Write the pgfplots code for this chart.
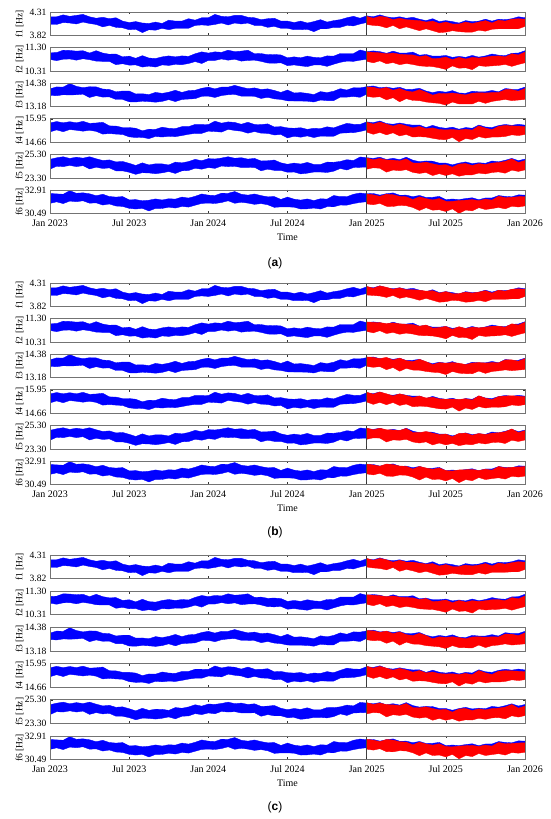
\documentclass[border=0pt]{standalone}
\usepackage{fontspec}
\setmainfont{Liberation Serif}
\newfontfamily\labelfont{Liberation Sans}
\usepackage{pgfplots}
\usepackage{pgfplotstable}
\pgfplotsset{compat=1.18}
\usepgfplotslibrary{fillbetween}
\newcommand{\T}[2]{\pgfplotstableread[row sep=\\]{v\\#1}#2}
% ---------- blue: measured, Jan 2023 - Jan 2026, every half month (upper / lower edge of band)
\T{4.21\\4.21\\4.25\\4.22\\4.24\\4.26\\4.21\\4.18\\4.20\\4.17\\4.19\\4.12\\4.09\\4.11\\4.08\\4.07\\4.10\\4.07\\4.14\\4.12\\4.12\\4.17\\4.14\\4.19\\4.19\\4.26\\4.22\\4.21\\4.24\\4.24\\4.20\\4.19\\4.15\\4.17\\4.18\\4.12\\4.12\\4.09\\4.12\\4.08\\4.11\\4.15\\4.10\\4.13\\4.15\\4.19\\4.22\\4.18\\4.23\\4.21\\4.25\\4.21\\4.19\\4.21\\4.18\\4.20\\4.16\\4.13\\4.17\\4.11\\4.13\\4.11\\4.08\\4.13\\4.11\\4.12\\4.16\\4.12\\4.16\\4.15\\4.17\\4.21\\4.19\\}\BoneU
\T{4.05\\4.05\\4.09\\4.08\\4.06\\4.10\\4.07\\4.05\\4.00\\4.03\\3.99\\3.98\\3.94\\3.95\\3.88\\3.94\\3.93\\3.97\\3.94\\3.97\\3.97\\3.97\\4.03\\4.04\\4.03\\4.05\\4.08\\4.04\\4.08\\4.06\\4.08\\4.03\\4.03\\3.99\\4.01\\3.97\\3.97\\3.94\\3.94\\3.95\\3.90\\3.96\\3.96\\3.99\\3.99\\4.03\\4.02\\4.06\\4.09\\4.07\\4.05\\4.05\\4.08\\4.02\\4.04\\4.02\\4.00\\4.01\\3.99\\3.94\\3.96\\3.96\\3.97\\3.94\\3.96\\3.97\\3.95\\4.00\\3.99\\4.01\\4.01\\4.03\\4.05\\}\BoneL
\T{11.08\\11.09\\11.19\\11.18\\11.15\\11.17\\11.07\\11.17\\11.07\\11.02\\11.03\\10.91\\10.94\\10.85\\10.96\\10.86\\10.84\\10.91\\10.95\\10.91\\10.95\\10.93\\11.04\\11.12\\11.07\\11.12\\11.10\\11.19\\11.13\\11.15\\11.19\\11.04\\11.05\\11.00\\11.01\\10.99\\10.87\\10.91\\10.87\\10.94\\10.89\\10.87\\10.95\\10.94\\11.05\\11.05\\11.05\\11.20\\11.13\\11.16\\11.13\\11.06\\11.15\\11.07\\11.07\\11.11\\10.98\\11.01\\10.94\\10.94\\10.97\\10.89\\10.93\\10.89\\10.97\\10.90\\10.95\\11.03\\10.98\\10.96\\11.06\\11.07\\11.17\\}\BtwoU
\T{10.80\\10.75\\10.81\\10.82\\10.77\\10.83\\10.79\\10.73\\10.72\\10.72\\10.58\\10.62\\10.56\\10.57\\10.48\\10.52\\10.48\\10.57\\10.55\\10.59\\10.58\\10.63\\10.71\\10.63\\10.76\\10.76\\10.82\\10.77\\10.81\\10.73\\10.76\\10.77\\10.72\\10.65\\10.64\\10.66\\10.54\\10.57\\10.53\\10.50\\10.57\\10.57\\10.51\\10.60\\10.68\\10.73\\10.72\\10.77\\10.81\\10.74\\10.81\\10.76\\10.77\\10.71\\10.72\\10.71\\10.69\\10.62\\10.65\\10.58\\10.53\\10.61\\10.57\\10.56\\10.51\\10.62\\10.60\\10.64\\10.62\\10.70\\10.61\\10.73\\10.74\\}\BtwoL
\T{14.09\\14.19\\14.18\\14.36\\14.22\\14.15\\14.20\\14.19\\14.08\\14.06\\13.94\\13.98\\13.98\\13.83\\13.84\\13.80\\13.91\\13.86\\13.92\\14.02\\13.91\\14.00\\14.02\\14.12\\14.18\\14.09\\14.18\\14.18\\14.27\\14.18\\14.10\\14.14\\14.06\\14.09\\14.01\\13.91\\14.03\\13.88\\13.90\\13.86\\13.80\\13.95\\13.90\\13.97\\14.10\\14.03\\14.15\\14.14\\14.20\\14.24\\14.15\\14.18\\14.12\\14.17\\14.06\\14.07\\14.12\\13.98\\13.90\\13.97\\13.92\\14.00\\13.88\\13.86\\13.97\\13.94\\13.94\\14.01\\13.94\\14.11\\14.07\\14.07\\14.18\\}\BthreeU
\T{13.76\\13.74\\13.79\\13.78\\13.79\\13.82\\13.65\\13.74\\13.67\\13.68\\13.55\\13.55\\13.43\\13.42\\13.46\\13.44\\13.41\\13.45\\13.54\\13.44\\13.55\\13.57\\13.59\\13.71\\13.72\\13.65\\13.75\\13.79\\13.81\\13.72\\13.72\\13.71\\13.60\\13.66\\13.58\\13.55\\13.48\\13.47\\13.47\\13.46\\13.42\\13.52\\13.49\\13.49\\13.67\\13.67\\13.70\\13.66\\13.82\\13.76\\13.77\\13.70\\13.76\\13.59\\13.70\\13.64\\13.68\\13.55\\13.56\\13.51\\13.44\\13.52\\13.49\\13.45\\13.49\\13.56\\13.46\\13.58\\13.58\\13.68\\13.61\\13.69\\13.65\\}\BthreeL
\T{15.72\\15.80\\15.73\\15.79\\15.73\\15.81\\15.70\\15.72\\15.76\\15.56\\15.55\\15.47\\15.47\\15.43\\15.29\\15.38\\15.37\\15.49\\15.43\\15.41\\15.52\\15.52\\15.64\\15.64\\15.63\\15.82\\15.71\\15.78\\15.75\\15.65\\15.76\\15.64\\15.63\\15.67\\15.50\\15.52\\15.45\\15.43\\15.46\\15.37\\15.43\\15.41\\15.51\\15.45\\15.58\\15.70\\15.65\\15.64\\15.78\\15.74\\15.83\\15.69\\15.65\\15.72\\15.65\\15.60\\15.61\\15.47\\15.59\\15.48\\15.43\\15.49\\15.38\\15.47\\15.43\\15.61\\15.50\\15.47\\15.58\\15.64\\15.59\\15.65\\15.60\\}\BfourU
\T{15.23\\15.34\\15.24\\15.36\\15.32\\15.27\\15.32\\15.26\\15.11\\15.14\\15.11\\15.09\\14.96\\14.92\\14.93\\14.86\\14.98\\14.95\\14.99\\14.97\\15.03\\15.10\\15.15\\15.15\\15.27\\15.25\\15.22\\15.37\\15.31\\15.27\\15.16\\15.25\\15.16\\15.15\\15.06\\15.09\\14.90\\14.99\\14.94\\15.01\\14.92\\15.00\\14.99\\14.99\\15.16\\15.18\\15.19\\15.25\\15.34\\15.20\\15.29\\15.25\\15.31\\15.18\\15.21\\15.10\\15.18\\15.09\\15.07\\14.99\\14.99\\15.03\\14.87\\15.01\\14.99\\15.07\\15.01\\15.09\\15.04\\15.12\\15.20\\15.21\\15.19\\}\BfourL
\T{24.88\\25.01\\25.10\\24.96\\25.06\\24.98\\25.10\\24.93\\24.78\\24.83\\24.66\\24.70\\24.54\\24.36\\24.58\\24.40\\24.50\\24.49\\24.40\\24.64\\24.58\\24.69\\24.88\\24.76\\24.94\\24.91\\24.99\\25.10\\24.97\\25.02\\24.90\\24.96\\24.74\\24.76\\24.82\\24.58\\24.46\\24.56\\24.48\\24.62\\24.44\\24.44\\24.64\\24.63\\24.70\\24.85\\24.78\\25.08\\25.02\\24.96\\25.06\\24.87\\24.97\\24.85\\25.06\\24.81\\24.68\\24.74\\24.72\\24.56\\24.56\\24.41\\24.56\\24.66\\24.52\\24.59\\24.54\\24.74\\24.67\\24.80\\24.96\\24.77\\24.90\\}\BfiveU
\T{24.04\\24.29\\24.26\\24.36\\24.26\\24.34\\24.06\\24.21\\24.10\\24.15\\23.90\\23.90\\23.78\\23.60\\23.74\\23.72\\23.66\\23.73\\23.84\\23.68\\23.90\\23.93\\24.12\\24.04\\24.18\\24.11\\24.31\\24.26\\24.29\\24.18\\24.18\\24.20\\23.90\\24.04\\23.94\\23.94\\23.78\\23.80\\23.64\\23.70\\23.80\\23.80\\23.76\\23.87\\24.10\\23.97\\24.18\\24.20\\24.22\\24.32\\24.26\\24.07\\24.17\\24.17\\24.18\\24.01\\24.00\\23.98\\23.80\\23.92\\23.80\\23.81\\23.72\\23.78\\23.84\\23.87\\23.82\\23.98\\23.95\\23.92\\24.16\\24.13\\24.14\\}\BfiveL
\T{32.55\\32.51\\32.47\\32.84\\32.57\\32.62\\32.52\\32.32\\32.47\\32.24\\32.18\\32.23\\31.89\\31.92\\31.80\\31.86\\31.99\\31.88\\32.01\\31.97\\32.18\\32.08\\32.26\\32.50\\32.38\\32.34\\32.58\\32.57\\32.75\\32.47\\32.38\\32.50\\32.33\\32.21\\32.23\\31.94\\32.18\\31.97\\31.87\\31.99\\31.82\\32.01\\31.97\\32.34\\32.23\\32.22\\32.47\\32.60\\32.52\\32.55\\32.38\\32.53\\32.61\\32.37\\32.38\\32.22\\32.35\\32.14\\32.16\\32.25\\31.92\\31.98\\31.92\\32.03\\32.11\\31.91\\32.09\\32.09\\32.34\\32.25\\32.21\\32.41\\32.38\\}\BsixU
\T{31.53\\31.69\\31.51\\31.77\\31.70\\31.80\\31.55\\31.59\\31.36\\31.47\\31.26\\31.22\\31.02\\30.95\\31.02\\30.75\\31.02\\31.01\\31.14\\31.05\\31.22\\31.15\\31.34\\31.53\\31.56\\31.52\\31.62\\31.80\\31.54\\31.65\\31.56\\31.43\\31.51\\31.39\\31.12\\31.17\\31.17\\31.14\\30.95\\30.97\\31.05\\30.95\\31.19\\31.18\\31.36\\31.35\\31.51\\31.63\\31.70\\31.58\\31.70\\31.57\\31.45\\31.64\\31.51\\31.40\\31.19\\31.36\\31.19\\31.19\\31.05\\31.16\\30.85\\31.12\\31.10\\31.28\\31.12\\31.27\\31.28\\31.24\\31.48\\31.50\\31.46\\}\BsixL
% ---------- red: Jan 2025 - Jan 2026, every half month, panels (a), (b), (c)
\T{4.22\\4.18\\4.22\\4.20\\4.15\\4.18\\4.15\\4.14\\4.13\\4.10\\4.12\\4.07\\4.10\\4.06\\4.06\\4.10\\4.07\\4.10\\4.13\\4.08\\4.14\\4.12\\4.16\\4.17\\4.16\\}\RoneAU
\T{4.05\\4.03\\4.02\\3.98\\4.03\\3.96\\4.00\\3.96\\3.92\\3.96\\3.92\\3.88\\3.89\\3.92\\3.90\\3.89\\3.89\\3.93\\3.91\\3.95\\3.96\\3.96\\3.96\\3.96\\4.01\\}\RoneAL
\T{4.24\\4.20\\4.25\\4.22\\4.18\\4.21\\4.17\\4.17\\4.16\\4.14\\4.15\\4.10\\4.13\\4.09\\4.09\\4.12\\4.10\\4.12\\4.15\\4.10\\4.16\\4.14\\4.18\\4.19\\4.18\\}\RoneBU
\T{4.06\\4.05\\4.04\\4.01\\4.05\\3.99\\4.02\\3.99\\3.95\\3.99\\3.95\\3.91\\3.92\\3.95\\3.94\\3.91\\3.92\\3.95\\3.92\\3.97\\3.97\\3.97\\3.98\\3.98\\4.03\\}\RoneBL
\T{4.24\\4.20\\4.24\\4.21\\4.16\\4.20\\4.16\\4.16\\4.14\\4.12\\4.13\\4.08\\4.11\\4.07\\4.07\\4.10\\4.08\\4.10\\4.13\\4.08\\4.14\\4.12\\4.15\\4.17\\4.16\\}\RoneCU
\T{4.06\\4.04\\4.03\\4.00\\4.05\\3.97\\4.01\\3.98\\3.94\\3.97\\3.93\\3.89\\3.90\\3.93\\3.91\\3.90\\3.90\\3.94\\3.91\\3.95\\3.95\\3.95\\3.96\\3.96\\4.01\\}\RoneCL
\T{11.12\\11.10\\11.08\\11.04\\11.07\\11.02\\11.00\\10.99\\10.92\\10.96\\10.83\\10.85\\10.90\\10.79\\10.89\\10.82\\10.89\\10.86\\10.90\\10.94\\10.95\\10.91\\11.04\\10.99\\11.11\\}\RtwoAU
\T{10.72\\10.66\\10.74\\10.62\\10.67\\10.58\\10.63\\10.59\\10.53\\10.51\\10.50\\10.45\\10.38\\10.53\\10.43\\10.45\\10.37\\10.54\\10.51\\10.53\\10.55\\10.59\\10.51\\10.59\\10.66\\}\RtwoAL
\T{11.16\\11.14\\11.13\\11.09\\11.12\\11.08\\11.06\\11.05\\10.98\\11.03\\10.90\\10.92\\10.97\\10.85\\10.96\\10.88\\10.94\\10.91\\10.94\\10.98\\10.98\\10.94\\11.08\\11.03\\11.15\\}\RtwoBU
\T{10.76\\10.70\\10.79\\10.67\\10.72\\10.64\\10.69\\10.65\\10.59\\10.58\\10.57\\10.52\\10.45\\10.59\\10.50\\10.51\\10.42\\10.59\\10.55\\10.57\\10.58\\10.62\\10.55\\10.63\\10.70\\}\RtwoBL
\T{11.15\\11.13\\11.11\\11.07\\11.10\\11.05\\11.03\\11.02\\10.95\\10.99\\10.86\\10.88\\10.93\\10.81\\10.91\\10.84\\10.90\\10.87\\10.90\\10.94\\10.94\\10.90\\11.03\\10.98\\11.10\\}\RtwoCU
\T{10.75\\10.69\\10.77\\10.65\\10.70\\10.61\\10.66\\10.62\\10.56\\10.54\\10.53\\10.48\\10.41\\10.55\\10.45\\10.47\\10.38\\10.55\\10.51\\10.53\\10.54\\10.58\\10.50\\10.58\\10.65\\}\RtwoCL
\T{14.19\\14.17\\14.09\\14.16\\14.02\\14.11\\13.98\\13.93\\14.05\\13.92\\13.77\\13.86\\13.84\\13.88\\13.83\\13.78\\13.87\\13.89\\13.88\\13.90\\13.90\\14.05\\14.05\\13.97\\14.11\\}\RthreeAU
\T{13.71\\13.66\\13.69\\13.53\\13.64\\13.43\\13.59\\13.50\\13.49\\13.42\\13.38\\13.35\\13.26\\13.42\\13.32\\13.32\\13.32\\13.46\\13.35\\13.45\\13.50\\13.55\\13.49\\13.52\\13.55\\}\RthreeAL
\T{14.24\\14.22\\14.15\\14.22\\14.08\\14.18\\14.05\\14.00\\14.12\\14.00\\13.85\\13.95\\13.92\\13.95\\13.92\\13.85\\13.93\\13.95\\13.93\\13.95\\13.94\\14.09\\14.09\\14.02\\14.16\\}\RthreeBU
\T{13.76\\13.71\\13.75\\13.59\\13.70\\13.51\\13.66\\13.57\\13.56\\13.50\\13.46\\13.44\\13.34\\13.50\\13.41\\13.39\\13.38\\13.52\\13.40\\13.50\\13.53\\13.58\\13.54\\13.57\\13.60\\}\RthreeBL
\T{14.22\\14.20\\14.13\\14.19\\14.06\\14.15\\14.01\\13.96\\14.08\\13.96\\13.80\\13.90\\13.87\\13.90\\13.86\\13.80\\13.89\\13.90\\13.88\\13.90\\13.89\\14.04\\14.03\\13.96\\14.10\\}\RthreeCU
\T{13.75\\13.70\\13.72\\13.57\\13.68\\13.47\\13.63\\13.53\\13.52\\13.45\\13.42\\13.39\\13.30\\13.45\\13.35\\13.34\\13.33\\13.48\\13.35\\13.45\\13.48\\13.54\\13.48\\13.51\\13.54\\}\RthreeCL
\T{15.77\\15.66\\15.77\\15.66\\15.55\\15.66\\15.56\\15.45\\15.53\\15.41\\15.45\\15.36\\15.34\\15.36\\15.33\\15.38\\15.33\\15.56\\15.44\\15.35\\15.54\\15.58\\15.56\\15.55\\15.52\\}\RfourAU
\T{15.22\\15.10\\15.20\\15.07\\15.18\\15.01\\15.09\\14.95\\14.97\\14.95\\14.88\\14.82\\14.80\\14.93\\14.69\\14.87\\14.81\\14.97\\14.89\\14.95\\14.95\\14.98\\15.07\\15.03\\15.09\\}\RfourAL
\T{15.82\\15.71\\15.83\\15.73\\15.61\\15.73\\15.64\\15.52\\15.61\\15.50\\15.54\\15.45\\15.43\\15.44\\15.42\\15.46\\15.39\\15.62\\15.49\\15.41\\15.58\\15.61\\15.62\\15.60\\15.57\\}\RfourBU
\T{15.28\\15.15\\15.26\\15.13\\15.25\\15.09\\15.17\\15.02\\15.05\\15.04\\14.97\\14.91\\14.89\\15.00\\14.78\\14.95\\14.87\\15.03\\14.95\\15.00\\14.99\\15.02\\15.12\\15.08\\15.14\\}\RfourBL
\T{15.81\\15.70\\15.80\\15.70\\15.59\\15.69\\15.60\\15.48\\15.57\\15.44\\15.49\\15.40\\15.38\\15.39\\15.35\\15.41\\15.34\\15.57\\15.44\\15.35\\15.53\\15.56\\15.55\\15.53\\15.51\\}\RfourCU
\T{15.26\\15.14\\15.24\\15.11\\15.22\\15.05\\15.13\\14.98\\15.01\\14.99\\14.92\\14.86\\14.84\\14.95\\14.72\\14.89\\14.82\\14.98\\14.89\\14.95\\14.94\\14.97\\15.06\\15.02\\15.07\\}\RfourCL
\T{25.00\\24.84\\24.96\\24.83\\24.81\\24.75\\24.92\\24.57\\24.56\\24.64\\24.50\\24.38\\24.42\\24.21\\24.48\\24.52\\24.36\\24.51\\24.44\\24.56\\24.61\\24.70\\24.92\\24.61\\24.78\\}\RfiveAU
\T{24.04\\24.16\\24.12\\23.79\\23.97\\23.91\\24.00\\23.77\\23.68\\23.76\\23.50\\23.66\\23.50\\23.65\\23.44\\23.56\\23.56\\23.71\\23.64\\23.76\\23.81\\23.70\\23.96\\23.85\\23.98\\}\RfiveAL
\T{25.08\\24.92\\25.06\\24.93\\24.91\\24.87\\25.04\\24.69\\24.68\\24.78\\24.64\\24.52\\24.56\\24.33\\24.62\\24.64\\24.46\\24.61\\24.52\\24.64\\24.67\\24.76\\25.00\\24.69\\24.86\\}\RfiveBU
\T{24.12\\24.24\\24.22\\23.89\\24.07\\24.03\\24.12\\23.89\\23.80\\23.90\\23.64\\23.80\\23.64\\23.77\\23.58\\23.68\\23.66\\23.81\\23.72\\23.84\\23.87\\23.76\\24.04\\23.93\\24.06\\}\RfiveBL
\T{25.06\\24.90\\25.02\\24.89\\24.87\\24.81\\24.98\\24.63\\24.62\\24.70\\24.56\\24.44\\24.48\\24.25\\24.52\\24.56\\24.38\\24.53\\24.44\\24.56\\24.59\\24.68\\24.90\\24.59\\24.76\\}\RfiveCU
\T{24.10\\24.22\\24.18\\23.85\\24.03\\23.97\\24.06\\23.83\\23.74\\23.82\\23.56\\23.72\\23.56\\23.69\\23.48\\23.60\\23.58\\23.73\\23.64\\23.76\\23.79\\23.68\\23.94\\23.83\\23.96\\}\RfiveCL
\T{32.50\\32.41\\32.26\\32.48\\32.42\\32.25\\32.21\\31.93\\32.21\\32.02\\31.89\\32.03\\31.75\\31.74\\31.82\\31.86\\31.92\\31.81\\31.97\\31.87\\32.27\\32.13\\32.16\\32.22\\32.24\\}\RsixAU
\T{31.48\\31.39\\31.53\\31.23\\31.21\\31.33\\31.29\\31.11\\30.80\\31.09\\30.83\\30.88\\30.69\\30.97\\30.51\\30.85\\30.76\\31.09\\30.90\\31.00\\31.11\\30.97\\31.24\\31.16\\31.27\\}\RsixAL
\T{32.59\\32.50\\32.38\\32.60\\32.54\\32.39\\32.36\\32.08\\32.35\\32.19\\32.06\\32.20\\31.92\\31.88\\31.99\\32.01\\32.04\\31.93\\32.07\\31.97\\32.34\\32.20\\32.26\\32.31\\32.33\\}\RsixBU
\T{31.58\\31.48\\31.65\\31.35\\31.33\\31.47\\31.44\\31.26\\30.95\\31.26\\31.00\\31.05\\30.86\\31.11\\30.68\\31.00\\30.88\\31.21\\31.00\\31.10\\31.18\\31.05\\31.34\\31.26\\31.36\\}\RsixBL
\T{32.57\\32.48\\32.33\\32.55\\32.49\\32.32\\32.28\\32.00\\32.28\\32.09\\31.97\\32.11\\31.82\\31.79\\31.87\\31.91\\31.94\\31.84\\31.97\\31.87\\32.24\\32.11\\32.14\\32.19\\32.21\\}\RsixCU
\T{31.56\\31.46\\31.60\\31.30\\31.28\\31.40\\31.37\\31.18\\30.88\\31.17\\30.90\\30.95\\30.76\\31.02\\30.56\\30.90\\30.79\\31.11\\30.90\\31.00\\31.09\\30.95\\31.21\\31.14\\31.24\\}\RsixCL

\pgfplotsset{
  sub/.style={
    scale only axis, width=475pt, height=23.5pt, anchor=north west,
    xmin=0, xmax=72, xtick={0,12,24,36,48,60,72}, xticklabels={},
    tick align=inside, major tick length=2.5pt,
    axis line style={black!55, line width=0.6pt},
    tick style={black!80, line width=0.5pt},
    extra x ticks={48}, extra x tick labels={},
    extra x tick style={grid=major, major grid style={black!75, line width=0.6pt}},
    axis on top,
    fill between/on layer=main,
    xticklabel style={font=\fontsize{10}{12}\selectfont, yshift=-3pt},
    yticklabel style={font=\fontsize{9.6}{11}\selectfont},
    xlabel style={font=\fontsize{10}{12}\selectfont},
    ylabel style={font=\fontsize{9.5}{11}\selectfont, at={(axis description cs:-0.048,0.5)}, anchor=south},
  },
  last/.style={xticklabels={Jan 2023,Jul 2023,Jan 2024,Jul 2024,Jan 2025,Jul 2025,Jan 2026}, xlabel={Time}},
  fa/.style={ymin=3.82, ymax=4.31, ytick={3.82,4.31}, yticklabels={3.82,4.31}, ylabel={f1 [Hz]}},
  fb/.style={ymin=10.31, ymax=11.30, ytick={10.31,11.30}, yticklabels={10.31,11.30}, ylabel={f2 [Hz]}},
  fc/.style={ymin=13.18, ymax=14.38, ytick={13.18,14.38}, yticklabels={13.18,14.38}, ylabel={f3 [Hz]}},
  fd/.style={ymin=14.66, ymax=15.95, ytick={14.66,15.95}, yticklabels={14.66,15.95}, ylabel={f4 [Hz]}},
  fe/.style={ymin=23.30, ymax=25.30, ytick={23.30,25.30}, yticklabels={23.30,25.30}, ylabel={f5 [Hz]}},
  ff/.style={ymin=30.49, ymax=32.91, ytick={30.49,32.91}, yticklabels={30.49,32.91}, ylabel={f6 [Hz]}},
  bandline/.style={line width=0.35pt, line join=round},
}

\newcommand{\band}[4]{%
  \addplot[bandline, blue, name path=bu] table[x expr=\coordindex, y=v] {#1};
  \addplot[bandline, blue, name path=bl] table[x expr=\coordindex, y=v] {#2};
  \addplot[blue] fill between[of=bu and bl];
  \addplot[bandline, red, name path=ru] table[x expr=\coordindex+48, y=v] {#3};
  \addplot[bandline, red, name path=rl] table[x expr=\coordindex+48, y=v] {#4};
  \addplot[red] fill between[of=ru and rl];
}

\begin{document}
\begin{tikzpicture}
% ---------------- (a)
\begin{axis}[sub, fa, at={(50pt,807pt)}] \band{\BoneU}{\BoneL}{\RoneAU}{\RoneAL} \end{axis}
\begin{axis}[sub, fb, at={(50pt,771.4pt)}] \band{\BtwoU}{\BtwoL}{\RtwoAU}{\RtwoAL} \end{axis}
\begin{axis}[sub, fc, at={(50pt,735.8pt)}] \band{\BthreeU}{\BthreeL}{\RthreeAU}{\RthreeAL} \end{axis}
\begin{axis}[sub, fd, at={(50pt,700.2pt)}] \band{\BfourU}{\BfourL}{\RfourAU}{\RfourAL} \end{axis}
\begin{axis}[sub, fe, at={(50pt,664.6pt)}] \band{\BfiveU}{\BfiveL}{\RfiveAU}{\RfiveAL} \end{axis}
\begin{axis}[sub, ff, last, at={(50pt,629pt)}] \band{\BsixU}{\BsixL}{\RsixAU}{\RsixAL} \end{axis}
\node[font=\labelfont\fontsize{12}{14}\selectfont] at (275pt,556pt) {(\textbf{a})};
% ---------------- (b)
\begin{axis}[sub, fa, at={(50pt,536pt)}] \band{\BoneU}{\BoneL}{\RoneBU}{\RoneBL} \end{axis}
\begin{axis}[sub, fb, at={(50pt,500.4pt)}] \band{\BtwoU}{\BtwoL}{\RtwoBU}{\RtwoBL} \end{axis}
\begin{axis}[sub, fc, at={(50pt,464.8pt)}] \band{\BthreeU}{\BthreeL}{\RthreeBU}{\RthreeBL} \end{axis}
\begin{axis}[sub, fd, at={(50pt,429.2pt)}] \band{\BfourU}{\BfourL}{\RfourBU}{\RfourBL} \end{axis}
\begin{axis}[sub, fe, at={(50pt,393.6pt)}] \band{\BfiveU}{\BfiveL}{\RfiveBU}{\RfiveBL} \end{axis}
\begin{axis}[sub, ff, last, at={(50pt,358pt)}] \band{\BsixU}{\BsixL}{\RsixBU}{\RsixBL} \end{axis}
\node[font=\labelfont\fontsize{12}{14}\selectfont] at (275pt,287pt) {(\textbf{b})};
% ---------------- (c)
\begin{axis}[sub, fa, at={(50pt,264pt)}] \band{\BoneU}{\BoneL}{\RoneCU}{\RoneCL} \end{axis}
\begin{axis}[sub, fb, at={(50pt,227.8pt)}] \band{\BtwoU}{\BtwoL}{\RtwoCU}{\RtwoCL} \end{axis}
\begin{axis}[sub, fc, at={(50pt,191.6pt)}] \band{\BthreeU}{\BthreeL}{\RthreeCU}{\RthreeCL} \end{axis}
\begin{axis}[sub, fd, at={(50pt,155.4pt)}] \band{\BfourU}{\BfourL}{\RfourCU}{\RfourCL} \end{axis}
\begin{axis}[sub, fe, at={(50pt,119.2pt)}] \band{\BfiveU}{\BfiveL}{\RfiveCU}{\RfiveCL} \end{axis}
\begin{axis}[sub, ff, last, at={(50pt,83pt)}] \band{\BsixU}{\BsixL}{\RsixCU}{\RsixCL} \end{axis}
\node[font=\labelfont\fontsize{12}{14}\selectfont] at (275pt,12pt) {(\textbf{c})};
\pgfresetboundingbox
\path[use as bounding box] (0pt,0pt) rectangle (550pt,819pt);
\end{tikzpicture}
\end{document}
